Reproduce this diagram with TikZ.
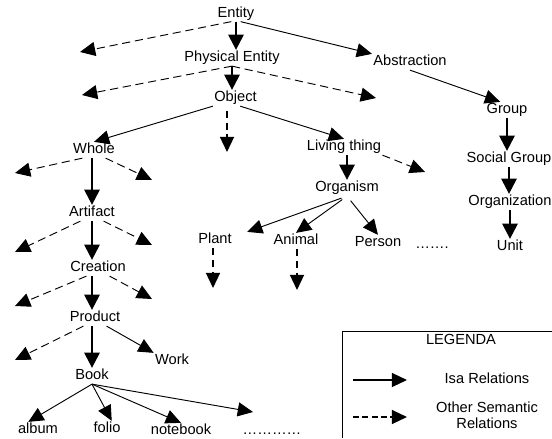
\documentclass[tikz,border=0pt]{standalone}
\usepackage{fontspec}
\setmainfont{Liberation Sans}
\usetikzlibrary{arrows.meta}
\tikzset{
    lbl/.style={inner sep=1pt, text height=9pt, text depth=2.5pt, font=\fontsize{12.5}{14}\selectfont},
    isa/.style={-{Triangle[length=13pt,width=13pt]}, line width=2pt},
    isathin/.style={-{Triangle[length=13pt,width=12pt]}, line width=0.8pt},
    other/.style={-{Triangle[length=13pt,width=12pt]}, line width=0.8pt, dash pattern=on 7pt off 4pt},
    otherthick/.style={-{Triangle[length=13pt,width=12pt]}, line width=1.6pt, dash pattern=on 6pt off 4pt},
}
\begin{document}
\begin{tikzpicture}[x=0.03cm,y=-0.03cm]
        \useasboundingbox (0,0) rectangle (552,438);
        %% concepts
        \node[lbl] (ent) at (236,13.5) {Entity};
        \node[lbl] (phys) at (232,58) {Physical Entity};
        \node[lbl] (obj) at (235.5,98) {Object};
        \node[lbl] (abs) at (410,62) {Abstraction};
        \node[lbl] (grp) at (507,110) {Group};
        \node[lbl] (soc) at (509,159) {Social Group};
        \node[lbl] (org) at (510,202) {Organization};
        \node[lbl] (unit) at (510,247) {Unit};
        \node[lbl] (liv) at (344,147) {Living thing};
        \node[lbl] (orgm) at (347,188) {Organism};
        \node[lbl] (plant) at (215,240) {Plant};
        \node[lbl] (animal) at (296,241) {Animal};
        \node[lbl] (person) at (378,243) {Person};
        \node[lbl,anchor=base] (dots1) at (432,248) {…….};
        \node[lbl] (whole) at (94,150) {Whole};
        \node[lbl] (art) at (92,213) {Artifact};
        \node[lbl] (crea) at (98,268) {Creation};
        \node[lbl] (prod) at (95,318) {Product};
        \node[lbl] (work) at (172,361) {Work};
        \node[lbl] (book) at (92,376) {Book};
        \node[lbl] (album) at (38,430) {album};
        \node[lbl] (folio) at (107,429) {folio};
        \node[lbl] (notebook) at (181,431) {notebook};
        \node[lbl,anchor=base] (dots2) at (272,434) {…………};
        % free ends
        \coordinate (eL) at (80,52);
        \coordinate (pL) at (82,95);
        \coordinate (pR) at (376,98);
        \coordinate (oD) at (227,152);
        \coordinate (lR) at (425,172);
        \coordinate (pD) at (213,288);
        \coordinate (aD) at (297,290);
        \coordinate (wL) at (15,173);
        \coordinate (wR) at (152,180);
        \coordinate (aL) at (15,252);
        \coordinate (aR) at (152,245);
        \coordinate (cL) at (15,306);
        \coordinate (cR) at (152,299);
        \coordinate (prL) at (15,360);
        \coordinate (bD) at (253,412);
        %% top of the tree
        \draw[isa] (ent.south) -- (ent.south |- phys.north);
        \draw[other] (ent.-120) -- (eL);
        \draw[isathin] (ent.-60) -- (abs.north west);
        \draw[other] (phys.south) -- (pL);
        \draw[other] (phys.south) -- (pR);
        \draw[isa] (phys.south) -- (phys.south |- obj.north);
        \draw[isathin] (obj.south west) -- (whole.north);
        \draw[otherthick] ([yshift=-4pt]obj.south -| oD) -- (oD);
        \draw[isathin] (obj.-60) -- (liv.north);
        %% living things
        \draw[other] (liv.south east) -- (lR);
        \draw[isa] (liv.south -| orgm.north) -- (orgm.north);
        \draw[isathin,shorten <=5pt] (orgm.south) -- ([xshift=12pt]plant.north east);
        \draw[isathin,shorten <=5pt] (orgm.south) -- (animal.north);
        \draw[isathin,shorten <=5pt] (orgm.south) -- (person.north);
        \draw[otherthick] (plant.south -| pD) -- (pD);
        \draw[otherthick] (animal.south -| aD) -- (aD);
        %% abstraction branch
        \draw[isathin] (abs.south) -- (grp.130);
        \draw[isa] (grp.south) -- (grp.south |- soc.north);
        \draw[isa] (soc.south) -- (soc.south |- org.north);
        \draw[isa] (org.south) -- (org.south |- unit.north);
        %% whole branch
        \foreach \n/\l/\r in {whole/wL/wR,art/aL/aR,crea/cL/cR}{
            \draw[other] (\n.-145) -- (\l);
            \draw[other] (\n.-35) -- (\r);
        }
        \draw[isa] (whole.south -| book.north) -- (art.north -| book.north);
        \draw[isa] (art.south -| book.north) -- (crea.north -| book.north);
        \draw[isa] (crea.south -| book.north) -- (prod.north -| book.north);
        \draw[other] (prod.-145) -- (prL);
        \draw[isathin] (prod.-35) -- (work.north west);
        \draw[isa] (prod.south -| book.north) -- (book.north);
        %% book
        \draw[isathin] (book.south) -- (album.140);
        \draw[isathin] (book.south) -- (folio.60);
        \draw[isathin] (book.south) -- (notebook.north);
        \draw[isathin] (book.south) -- (bD);
        %% legend
        \draw[line width=0.8pt] (342,438) -- (342,331) -- (552,331);
        \node[lbl] (leg) at (461,341) {LEGENDA};
        \node[lbl] (isatxt) at (487,380) {Isa Relations};
        \node[inner sep=1pt,align=center,font=\fontsize{12.5}{13.6}\selectfont] (othtxt) at (487,415) {Other Semantic\\Relations};
        \coordinate (isa1) at (353,380);
        \coordinate (oth1) at (353,417);
        \draw[isathin,line width=1.4pt] (isa1) -- (407,380);
        \draw[other,line width=1.4pt,dash pattern=on 5pt off 3pt] (oth1) -- (407,417);
\end{tikzpicture}
\end{document}
